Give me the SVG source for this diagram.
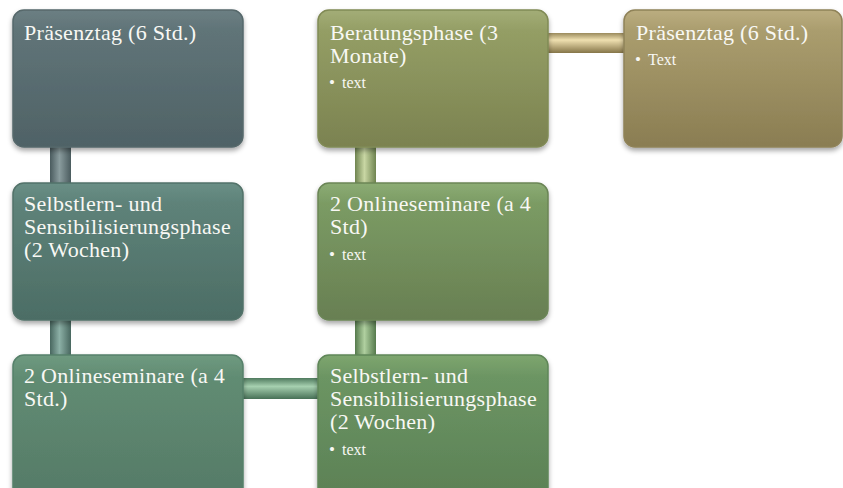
<svg xmlns="http://www.w3.org/2000/svg" width="843" height="488" viewBox="0 0 843 488">
<defs>
<filter id="sh" x="-10%" y="-10%" width="120%" height="130%">
<feDropShadow dx="0" dy="3" stdDeviation="2.5" flood-color="#000" flood-opacity="0.35"/>
</filter>
<linearGradient id="g1" x1="0" y1="0" x2="0" y2="1"><stop offset="0" stop-color="#6c7f83"/><stop offset="0.15" stop-color="#607478"/><stop offset="1" stop-color="#4f6266"/></linearGradient>
<linearGradient id="g2" x1="0" y1="0" x2="0" y2="1"><stop offset="0" stop-color="#6a8f86"/><stop offset="0.15" stop-color="#5e8279"/><stop offset="1" stop-color="#4c6d65"/></linearGradient>
<linearGradient id="g3" x1="0" y1="0" x2="0" y2="1"><stop offset="0" stop-color="#6f9a80"/><stop offset="0.15" stop-color="#618c73"/><stop offset="1" stop-color="#557a67"/></linearGradient>
<linearGradient id="g4" x1="0" y1="0" x2="0" y2="1"><stop offset="0" stop-color="#7ea66f"/><stop offset="0.15" stop-color="#6c9563"/><stop offset="1" stop-color="#5b8055"/></linearGradient>
<linearGradient id="g5" x1="0" y1="0" x2="0" y2="1"><stop offset="0" stop-color="#8cac74"/><stop offset="0.15" stop-color="#7b9b64"/><stop offset="1" stop-color="#687f52"/></linearGradient>
<linearGradient id="g6" x1="0" y1="0" x2="0" y2="1"><stop offset="0" stop-color="#a3ad77"/><stop offset="0.15" stop-color="#949e65"/><stop offset="1" stop-color="#7b8250"/></linearGradient>
<linearGradient id="g7" x1="0" y1="0" x2="0" y2="1"><stop offset="0" stop-color="#bbad80"/><stop offset="0.15" stop-color="#aa9d6e"/><stop offset="1" stop-color="#8a7d52"/></linearGradient>
<linearGradient id="cv1" x1="0" y1="0" x2="1" y2="0"><stop offset="0" stop-color="#4a5b5e"/><stop offset="0.45" stop-color="#8a9c9e"/><stop offset="1" stop-color="#4a5b5e"/></linearGradient>
<linearGradient id="cv2" x1="0" y1="0" x2="1" y2="0"><stop offset="0" stop-color="#48675f"/><stop offset="0.45" stop-color="#8cb0a6"/><stop offset="1" stop-color="#48675f"/></linearGradient>
<linearGradient id="ch3" x1="0" y1="0" x2="0" y2="1"><stop offset="0" stop-color="#4f7a5e"/><stop offset="0.4" stop-color="#a6d0b0"/><stop offset="1" stop-color="#477056"/></linearGradient>
<linearGradient id="cv4" x1="0" y1="0" x2="1" y2="0"><stop offset="0" stop-color="#557a4c"/><stop offset="0.45" stop-color="#b0d0a0"/><stop offset="1" stop-color="#557a4c"/></linearGradient>
<linearGradient id="cv5" x1="0" y1="0" x2="1" y2="0"><stop offset="0" stop-color="#6f8450"/><stop offset="0.45" stop-color="#c9d7a4"/><stop offset="1" stop-color="#6f8450"/></linearGradient>
<linearGradient id="ch6" x1="0" y1="0" x2="0" y2="1"><stop offset="0" stop-color="#9a8a5c"/><stop offset="0.35" stop-color="#efe0b0"/><stop offset="1" stop-color="#857548"/></linearGradient>
</defs>
<style>
.box{filter:url(#sh);stroke-width:1.5}
.t{font-family:"Liberation Serif","DejaVu Serif",serif;font-size:22px;letter-spacing:0.3px;fill:#f8f8f4}
.b{font-family:"Liberation Serif","DejaVu Serif",serif;font-size:16px;fill:#f8f8f4}
.d{font-family:"Liberation Serif","DejaVu Serif",serif;font-size:17px;fill:#f8f8f4}
</style>
<g id="connectors">
<rect x="50" y="145" width="21" height="40" fill="url(#cv1)"/>
<rect x="50" y="318" width="21" height="39" fill="url(#cv2)"/>
<rect x="241" y="378" width="78" height="21" fill="url(#ch3)"/>
<rect x="355" y="318" width="21" height="39" fill="url(#cv4)"/>
<rect x="355" y="145" width="21" height="40" fill="url(#cv5)"/>
<rect x="546" y="33" width="80" height="20" fill="url(#ch6)"/>
</g>
<g id="n1"><rect class="box" x="13" y="10" width="230" height="137" rx="11" fill="url(#g1)" stroke="#56686b"/>
<text class="t" x="24" y="40">Präsenztag (6 Std.)</text></g>
<g id="n2"><rect class="box" x="13" y="183" width="230" height="137" rx="11" fill="url(#g2)" stroke="#527269"/>
<text class="t" x="24" y="211">Selbstlern- und</text>
<text class="t" x="24" y="234">Sensibilisierungsphase</text>
<text class="t" x="24" y="257">(2 Wochen)</text></g>
<g id="n3"><rect class="box" x="13" y="355" width="230" height="145" rx="11" fill="url(#g3)" stroke="#56806a"/>
<text class="t" x="24" y="383">2 Onlineseminare (a 4</text>
<text class="t" x="24" y="406">Std.)</text></g>
<g id="n4"><rect class="box" x="318" y="355" width="230" height="145" rx="11" fill="url(#g4)" stroke="#5f8658"/>
<text class="t" x="330" y="383">Selbstlern- und</text>
<text class="t" x="330" y="406">Sensibilisierungsphase</text>
<text class="t" x="330" y="429">(2 Wochen)</text>
<text x="329" y="455"><tspan class="d">•</tspan><tspan class="b" x="342">text</tspan></text></g>
<g id="n5"><rect class="box" x="318" y="183" width="230" height="137" rx="11" fill="url(#g5)" stroke="#6b8556"/>
<text class="t" x="330" y="211">2 Onlineseminare (a 4</text>
<text class="t" x="330" y="234">Std)</text>
<text x="329" y="260"><tspan class="d">•</tspan><tspan class="b" x="342">text</tspan></text></g>
<g id="n6"><rect class="box" x="318" y="10" width="230" height="137" rx="11" fill="url(#g6)" stroke="#808a55"/>
<text class="t" x="330" y="40">Beratungsphase (3</text>
<text class="t" x="330" y="63">Monate)</text>
<text x="329" y="88"><tspan class="d">•</tspan><tspan class="b" x="342">text</tspan></text></g>
<g id="n7"><rect class="box" x="624" y="10" width="218" height="137" rx="11" fill="url(#g7)" stroke="#8f8258"/>
<text class="t" x="636" y="40">Präsenztag (6 Std.)</text>
<text x="635" y="65"><tspan class="d">•</tspan><tspan class="b" x="648">Text</tspan></text></g>
</svg>
